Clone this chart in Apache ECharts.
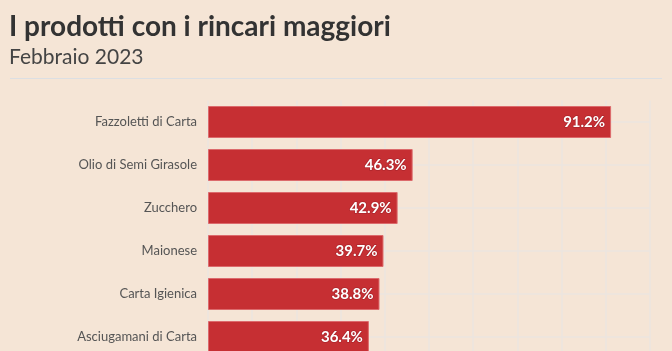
<!DOCTYPE html>
<html>
<head>
<meta charset="utf-8">
<script src="https://cdn.jsdelivr.net/npm/echarts@6/dist/echarts.min.js"></script>
<style>
  html, body { margin: 0; padding: 0; background: #f5e5d6; overflow: hidden; }
  #chart { width: 672px; height: 362px; }
</style>
</head>
<body>
<div id="chart"></div>
<script>
const categories = [
  'Fazzoletti di Carta',
  'Olio di Semi Girasole',
  'Zucchero',
  'Maionese',
  'Carta Igienica',
  'Asciugamani di Carta'
]
const values = [91.2, 46.3, 42.9, 39.7, 38.8, 36.4]
const xMin = 0
const xMax = 100
const xStep = 10

const chart = echarts.init(document.getElementById('chart'))

chart.setOption({
  backgroundColor: '#f5e5d6',
  animation: false,
  title: {
    text: 'I prodotti con i rincari maggiori',
    subtext: 'Febbraio 2023',
    left: 4,
    top: 8,
    itemGap: 6,
    textStyle: {
      fontFamily: 'Lato',
      fontWeight: 'bold',
      fontSize: 28,
      color: '#333333'
    },
    subtextStyle: {
      fontFamily: 'Lato',
      fontSize: 21,
      color: '#444444'
    }
  },
  graphic: [
    {
      type: 'line',
      shape: { x1: 10, y1: 78.5, x2: 662, y2: 78.5 },
      style: { stroke: '#dcdfe3', lineWidth: 1 },
      silent: true
    }
  ],
  grid: {
    left: 208,
    right: 22,
    top: 100.5,
    height: 258
  },
  xAxis: {
    type: 'value',
    min: xMin,
    max: xMax,
    interval: xStep,
    axisLabel: { show: false },
    axisLine: { show: false },
    axisTick: { show: false },
    splitLine: {
      show: true,
      lineStyle: { color: '#ebe5df', width: 1.5 }
    }
  },
  yAxis: {
    type: 'category',
    data: categories,
    inverse: true,
    axisLine: { show: false },
    axisTick: { show: false },
    axisLabel: {
      margin: 11,
      fontFamily: 'Lato',
      fontSize: 13,
      color: '#555555'
    }
  },
  series: [
    {
      type: 'bar',
      data: values,
      barWidth: 32,
      z: 3,
      itemStyle: {
        color: '#c62f33',
        borderColor: '#dc6a6c',
        borderWidth: 1
      },
      markLine: {
        silent: true,
        z: 1,
        symbol: 'none',
        label: { show: false },
        lineStyle: { color: '#ebe5df', type: 'solid', width: 1.5 },
        data: categories.map(function (c) { return { yAxis: c } })
      },
      label: {
        show: true,
        position: 'insideRight',
        distance: 6,
        formatter: function (p) { return p.value.toFixed(1) + '%' },
        fontFamily: 'Lato',
        fontWeight: 'bold',
        fontSize: 15,
        color: '#ffffff',
        textBorderColor: '#ad252c',
        textBorderWidth: 1.5
      }
    }
  ]
})
</script>
</body>
</html>
